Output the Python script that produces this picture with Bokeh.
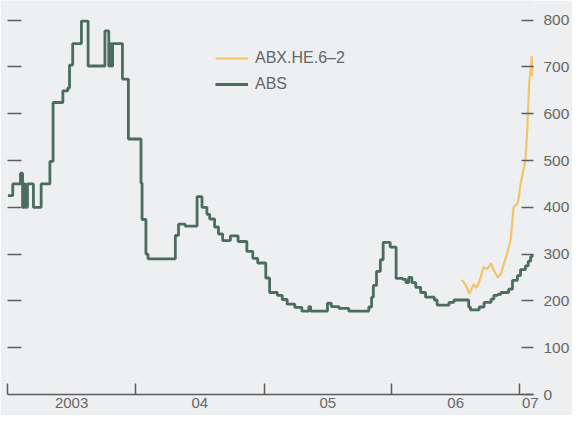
import pandas as pd
from bokeh.plotting import figure
from bokeh.models import (Range1d, LinearAxis, FixedTicker, Legend, LegendItem,
                          ColumnDataSource, CustomLabelingPolicy)
from bokeh.embed import file_html
from bokeh.resources import INLINE

# ABS index (step series)
abs_dates = [
    "2003-01-01", "2003-01-15", "2003-02-06", "2003-02-12", "2003-02-17", "2003-02-20",
    "2003-02-26", "2003-03-15", "2003-04-06", "2003-05-01", "2003-05-10", "2003-06-07",
    "2003-06-21", "2003-06-26", "2003-07-05", "2003-07-30", "2003-08-18", "2003-10-05",
    "2003-10-16", "2003-10-20", "2003-10-23", "2003-10-27", "2003-11-24", "2003-12-11",
    "2004-01-16", "2004-01-19", "2004-01-30", "2004-02-05", "2004-04-23", "2004-05-02",
    "2004-05-21", "2004-06-24", "2004-07-08", "2004-07-22", "2004-07-30", "2004-08-13",
    "2004-08-24", "2004-09-05", "2004-09-27", "2004-10-19", "2004-11-13", "2004-11-30",
    "2004-12-14", "2005-01-06", "2005-01-17", "2005-02-08", "2005-02-22", "2005-03-08",
    "2005-03-30", "2005-04-19", "2005-05-09", "2005-05-14", "2005-07-01", "2005-07-12",
    "2005-08-03", "2005-08-31", "2005-10-27", "2005-11-04", "2005-11-09", "2005-11-18",
    "2005-11-29", "2005-12-07", "2005-12-27", "2006-01-13", "2006-02-01", "2006-02-10",
    "2006-02-18", "2006-02-27", "2006-03-10", "2006-03-24", "2006-04-07", "2006-05-02",
    "2006-05-10", "2006-06-13", "2006-06-27", "2006-08-08", "2006-08-13", "2006-09-07",
    "2006-09-21", "2006-10-11", "2006-10-19", "2006-10-30", "2006-11-08", "2006-11-30",
    "2006-12-11", "2006-12-25", "2007-01-03", "2007-01-17", "2007-01-25", "2007-02-01",
    "2007-02-07",
]
abs_values = [
    425, 450, 473, 400, 450, 400,
    450, 400, 450, 498, 624, 649,
    655, 704, 750, 798, 702, 777,
    702, 750, 702, 750, 674, 546,
    452, 374, 300, 290, 340, 364,
    360, 423, 400, 385, 375, 358,
    343, 329, 339, 327, 306, 291,
    281, 249, 218, 212, 203, 193,
    186, 178, 188, 178, 195, 188,
    184, 178, 187, 208, 233, 263,
    288, 325, 315, 248, 246, 239,
    250, 239, 229, 218, 208, 202,
    191, 197, 202, 187, 181, 187,
    197, 204, 212, 214, 218, 225,
    244, 254, 267, 275, 285, 295,
    300,
]

# ABX.HE.6-2 index
abx_dates = [
    "2006-07-19", "2006-07-30", "2006-08-10", "2006-08-22", "2006-08-30", "2006-09-07",
    "2006-09-19", "2006-09-30", "2006-10-11", "2006-10-19", "2006-10-30", "2006-11-08",
    "2006-11-16", "2006-11-27", "2006-12-06", "2006-12-11", "2006-12-14", "2006-12-25",
    "2006-12-28", "2007-01-03", "2007-01-11", "2007-01-17", "2007-01-22", "2007-01-25",
    "2007-01-28", "2007-02-02", "2007-02-04", "2007-02-05", "2007-02-07",
]
abx_values = [
    245, 235, 215, 236, 228, 240,
    272, 268, 280, 265, 250, 258,
    278, 305, 332, 374, 400, 408,
    416, 450, 479, 500, 563, 618,
    668, 700, 723, 680, 705,
]

year_labels = ["2003", "04", "05", "06", "07"]
year_label_dates = ["2003-07-02", "2004-07-02", "2005-07-02", "2006-07-02", "2007-01-31"]
year_boundaries = ["2003-01-01", "2004-01-01", "2005-01-01", "2006-01-01", "2007-01-01"]
y_ticks = [0, 100, 200, 300, 400, 500, 600, 700, 800]

GREEN = "#4a6d5f"
ORANGE = "#f2c46c"
TEXT = "#666666"
AXIS = "#5c5c5c"
BG = "#eeeff1"
FONT = "Liberation Sans"


def ms(d):
    return int(pd.Timestamp(d).value // 10**6)


abs_src = ColumnDataSource(dict(x=pd.to_datetime(abs_dates), y=abs_values))
abx_src = ColumnDataSource(dict(x=pd.to_datetime(abx_dates), y=abx_values))

p = figure(width=572, height=415, output_backend="svg", toolbar_location=None,
           x_axis_type=None, y_axis_type=None,
           x_range=Range1d(ms("2002-12-31"), ms("2007-02-09")),
           y_range=Range1d(0, 842),
           min_border_left=7, min_border_right=36, min_border_top=0, min_border_bottom=21,
           background_fill_color=BG, border_fill_color=BG)
p.outline_line_color = None

r_abx = p.line("x", "y", source=abx_src, line_color=ORANGE, line_width=2.2)
r_abs = p.step("x", "y", source=abs_src, mode="after", line_color=GREEN, line_width=2.8)

# bottom axis: year boundaries as minor ticks, labels centred in each year
xaxis = LinearAxis(
    ticker=FixedTicker(ticks=[ms(d) for d in year_label_dates],
                       minor_ticks=[ms(d) for d in year_boundaries]),
    major_label_overrides={ms(d): lab for d, lab in zip(year_label_dates, year_labels)},
    major_tick_in=0, major_tick_out=0,
    minor_tick_in=11, minor_tick_out=0,
    minor_tick_line_color=AXIS, minor_tick_line_width=1.5,
    axis_line_color=AXIS, axis_line_width=1.5,
    major_label_standoff=3,
    major_label_text_font=FONT, major_label_text_font_size="15px",
    major_label_text_color=TEXT,
)
p.add_layout(xaxis, "below")

# right axis with labels
raxis = LinearAxis(
    ticker=FixedTicker(ticks=y_ticks),
    major_tick_in=12, major_tick_out=0,
    major_tick_line_color=AXIS, major_tick_line_width=1.5,
    minor_tick_line_color=None, axis_line_color=None,
    major_label_standoff=10,
    major_label_text_font=FONT, major_label_text_font_size="15.5px",
    major_label_text_color=TEXT,
)
p.add_layout(raxis, "right")

# left axis: tick marks only, no labels drawn
laxis = LinearAxis(
    ticker=FixedTicker(ticks=y_ticks[1:]),
    major_tick_in=14, major_tick_out=0,
    major_tick_line_color=AXIS, major_tick_line_width=1.5,
    minor_tick_line_color=None, axis_line_color=None,
    major_label_standoff=0, major_label_text_font_size="1px",
    major_label_policy=CustomLabelingPolicy(code="""
        for (const i of indices) indices.unset(i)
        return indices
    """),
)
p.add_layout(laxis, "left")

legend = Legend(items=[LegendItem(label="ABX.HE.6–2", renderers=[r_abx]),
                       LegendItem(label="ABS", renderers=[r_abs])],
                location=(208, 300), orientation="vertical",
                background_fill_alpha=0, border_line_color=None,
                padding=0, margin=0, spacing=6,
                glyph_width=33, glyph_height=20, label_height=20, label_standoff=7,
                label_text_font=FONT, label_text_font_size="16px",
                label_text_color=TEXT)
p.add_layout(legend)

open("out.html", "w").write(file_html(p, INLINE))
